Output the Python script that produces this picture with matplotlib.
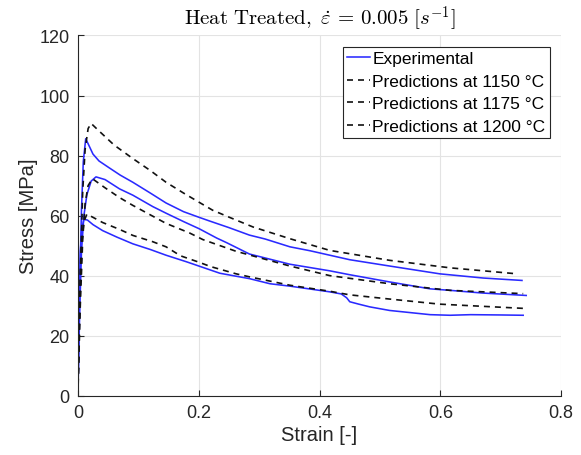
import numpy as np
import matplotlib
matplotlib.use("Agg")
import matplotlib.pyplot as plt

plt.rcParams['font.family'] = ['Liberation Sans', 'DejaVu Sans']
plt.rcParams['mathtext.fontset'] = 'cm'

# experimental curves (strain [-], stress [MPa])
exp1_strain = [0, 0.003, 0.006, 0.009, 0.013, 0.018, 0.025, 0.035, 0.052, 0.070, 0.091, 0.120,
               0.146, 0.175, 0.201, 0.218, 0.25, 0.284, 0.310, 0.351, 0.384, 0.417, 0.45, 0.516,
               0.599, 0.671, 0.735]
exp1_stress = [0, 35, 62, 78, 85.6, 83.5, 80.5, 78.2, 75.9, 73.5, 71.1, 67.5,
               64.2, 61.3, 59.4, 58.2, 56.0, 53.5, 52.2, 49.6, 48.3, 46.8, 45.3, 43.2,
               40.6, 39.2, 38.4]

exp2_strain = [0, 0.003, 0.006, 0.010, 0.015, 0.022, 0.030, 0.045, 0.069, 0.091, 0.124, 0.146,
               0.175, 0.201, 0.230, 0.246, 0.284, 0.351, 0.417, 0.45, 0.516, 0.583, 0.616,
               0.67, 0.742]
exp2_stress = [0, 28, 48, 60, 67, 71.5, 72.9, 72.0, 68.9, 66.8, 63.0, 60.8,
               58.0, 55.6, 52.5, 51.0, 47.2, 43.8, 41.6, 40.3, 37.9, 35.6, 35.1,
               34.2, 33.4]

exp3_strain = [0, 0.002, 0.004, 0.007, 0.010, 0.016, 0.025, 0.041, 0.065, 0.091, 0.120, 0.146,
               0.18, 0.235, 0.284, 0.318, 0.351, 0.417, 0.436, 0.445, 0.450, 0.465, 0.483,
               0.516, 0.583, 0.616, 0.65, 0.70, 0.737]
exp3_stress = [0, 30, 48, 56, 58.8, 58.5, 57, 55.0, 52.8, 50.6, 48.7, 46.8,
               44.6, 40.8, 39.0, 37.3, 36.5, 34.6, 33.9, 32.6, 31.3, 30.5, 29.6,
               28.4, 27.0, 26.8, 27.0, 26.9, 26.8]

# model predictions
p1150_strain = [0, 0.004, 0.008, 0.012, 0.017, 0.022, 0.035, 0.060, 0.091, 0.120, 0.146, 0.175,
                0.201, 0.223, 0.25, 0.290, 0.351, 0.417, 0.516, 0.616, 0.727]
p1150_stress = [0, 40, 68, 82, 89, 90.7, 88.2, 83.5, 79, 75, 71.1, 67.5,
                64.4, 61.8, 59.5, 56.2, 52.3, 48.4, 45.1, 42.6, 40.6]

p1175_strain = [0, 0.004, 0.008, 0.012, 0.017, 0.024, 0.044, 0.069, 0.091, 0.124, 0.146, 0.157,
                0.185, 0.207, 0.262, 0.351, 0.417, 0.516, 0.616, 0.737]
p1175_stress = [0, 30, 52, 64, 70, 72.3, 69.4, 66.0, 63.4, 59.8, 57.4, 56.5,
                54.2, 52.0, 48.1, 43.2, 40.0, 37.3, 35.1, 34.0]

p1200_strain = [0, 0.003, 0.006, 0.010, 0.015, 0.041, 0.069, 0.091, 0.124, 0.146, 0.170, 0.20,
                0.220, 0.262, 0.284, 0.351, 0.417, 0.45, 0.516, 0.599, 0.737]
p1200_stress = [0, 32, 50, 58, 60.5, 57.7, 55.4, 53.4, 51.3, 49.6, 46.6, 44.5,
                43.0, 40.6, 39.6, 36.8, 34.8, 33.6, 32.2, 30.5, 29.1]

fig = plt.figure(figsize=(5.81, 4.56), dpi=100)
ax = fig.add_axes([0.134, 0.130, 0.832, 0.790])

blue = '#2a2aff'
dash = (3.6, 3.0)
ax.plot(exp1_strain, exp1_stress, color=blue, lw=1.15, label='Experimental')
ax.plot(exp2_strain, exp2_stress, color=blue, lw=1.15)
ax.plot(exp3_strain, exp3_stress, color=blue, lw=1.15)
ax.plot(p1150_strain, p1150_stress, color='#111111', lw=1.2, ls=(0, dash), label='Predictions at 1150 °C')
ax.plot(p1175_strain, p1175_stress, color='#111111', lw=1.2, ls=(0, dash), label='Predictions at 1175 °C')
ax.plot(p1200_strain, p1200_stress, color='#111111', lw=1.2, ls=(0, dash), label='Predictions at 1200 °C')

ax.set_xlim(0, 0.8)
ax.set_ylim(0, 120)
ax.set_xticks([0, 0.2, 0.4, 0.6, 0.8])
ax.set_xticklabels(['0', '0.2', '0.4', '0.6', '0.8'])
ax.set_yticks(np.arange(0, 121, 20))
ax.grid(True, color='#e3e3e3', lw=0.8)
ax.set_axisbelow(True)
for s in ['top', 'right']:
    ax.spines[s].set_visible(False)
for s in ['left', 'bottom']:
    ax.spines[s].set_color('#262626')
    ax.spines[s].set_linewidth(0.8)
ax.tick_params(direction='in', length=4, width=0.8, colors='#262626', labelsize=13)
ax.tick_params(axis='x', pad=6)
ax.tick_params(axis='y', pad=6)

ax.set_xlabel('Strain [-]', fontsize=14.5, color='#262626', labelpad=3)
ax.set_ylabel('Stress [MPa]', fontsize=14.5, color='#262626', labelpad=1)
ax.set_title(r'$\mathrm{Heat\ Treated,}\ \dot{\varepsilon}\, =\, 0.005\ [s^{-1}]$', fontsize=15, pad=8)

leg = ax.legend(loc='upper right', fontsize=12.5, handlelength=1.3, handletextpad=0.15,
                labelspacing=0.42, borderpad=0.25, borderaxespad=0.65, fancybox=False,
                framealpha=1, edgecolor='#262626')
leg.get_frame().set_linewidth(0.8)

fig.savefig('out.png', dpi=100)
